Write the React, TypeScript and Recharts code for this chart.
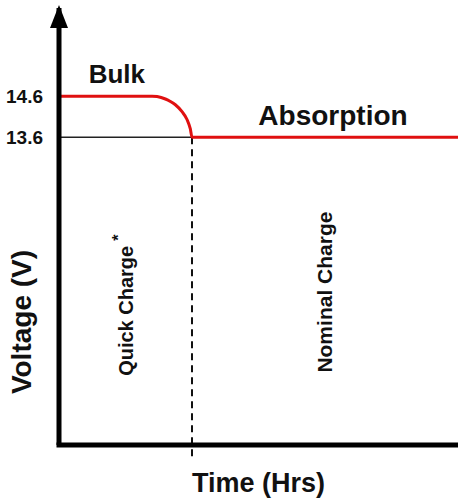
import { LineChart, Line, XAxis, YAxis, ReferenceLine, ReferenceDot } from 'recharts';

// charge profile (hours are arbitrary units, volts)
const time = [0, 2.8, 2.95, 3.2, 3.35, 3.5, 3.7, 3.85, 3.95, 4, 12];
const voltage = [14.6, 14.6, 14.59, 14.53, 14.47, 14.39, 14.22, 14.03, 13.8, 13.6, 13.6];
const yTicks = [13.6, 14.6];
const switchTime = 4;
const floorV = 13.6;

const chartData = time.map((t, i) => ({ t, v: voltage[i] }));

const FONT = '"Liberation Sans", Arial, sans-serif';

type TextProps = { cx?: number; cy?: number };

const note =
  (text: string, size: number, rotate = false, star = false) =>
  ({ cx = 0, cy = 0 }: TextProps) => (
    <text
      x={cx}
      y={cy}
      textAnchor="middle"
      fontFamily={FONT}
      fontWeight="bold"
      fontSize={size}
      fill="#111"
      transform={rotate ? `rotate(-90 ${cx} ${cy})` : undefined}
    >
      {text}
      {star && (
        <tspan dx={5} dy={-size * 0.45} fontSize={size * 0.8}>
          *
        </tspan>
      )}
    </text>
  );

const arrow = ({ cx = 0, cy = 0 }: TextProps) => (
  <polygon points={`${cx},${cy - 3} ${cx - 9},${cy + 20} ${cx + 9},${cy + 20}`} fill="#000" />
);

const VoltTick = (props: any) => {
  const { x, y, payload } = props;
  return (
    <text
      x={x}
      y={y}
      dy={7}
      textAnchor="end"
      fontFamily={FONT}
      fontWeight="bold"
      fontSize={19}
      fill="#111"
    >
      {Number(payload.value).toFixed(1)}
    </text>
  );
};

export default function App() {
  return (
    <div style={{ position: 'absolute', left: 0, top: 0, background: '#fff' }}>
      <LineChart width={458} height={500} data={chartData} margin={{ top: 8, right: 0, bottom: 0, left: 0 }}>
        <XAxis
          type="number"
          dataKey="t"
          domain={[0, 12]}
          allowDataOverflow
          tick={false}
          tickLine={false}
          height={55}
          axisLine={{ stroke: '#000', strokeWidth: 5, strokeLinecap: 'square' }}
          label={{
            value: 'Time (Hrs)',
            position: 'insideBottom',
            offset: 8,
            style: { fontFamily: FONT, fontWeight: 'bold', fontSize: 27, fill: '#111' },
          }}
        />
        <YAxis
          type="number"
          domain={[6.09, 16.75]}
          allowDataOverflow
          ticks={yTicks}
          tickLine={false}
          tickSize={0}
          tickMargin={16}
          width={59}
          axisLine={{ stroke: '#000', strokeWidth: 5 }}
          tick={<VoltTick />}
        />
        <ReferenceLine
          segment={[{ x: 0, y: floorV }, { x: switchTime, y: floorV }]}
          stroke="#222"
          strokeWidth={1.5}
        />
        <ReferenceLine
          segment={[{ x: switchTime, y: floorV }, { x: switchTime, y: 5.77 }]}
          stroke="#111"
          strokeWidth={2}
          strokeDasharray="7 5"
          ifOverflow="visible"
        />
        <Line
          type="monotone"
          dataKey="v"
          stroke="#e01010"
          strokeWidth={3}
          dot={false}
          isAnimationActive={false}
        />
        <ReferenceDot x={0} y={16.75} r={0} shape={arrow} ifOverflow="visible" />
        <ReferenceDot x={1.74} y={14.93} r={0} shape={note('Bulk', 26)} ifOverflow="visible" />
        <ReferenceDot x={8.24} y={13.89} r={0} shape={note('Absorption', 28)} ifOverflow="visible" />
        <ReferenceDot x={-0.84} y={9.09} r={0} shape={note('Voltage (V)', 28, true)} ifOverflow="visible" />
        <ReferenceDot x={2.23} y={9.5} r={0} shape={note('Quick Charge', 20, true, true)} ifOverflow="visible" />
        <ReferenceDot x={8.21} y={9.82} r={0} shape={note('Nominal Charge', 21, true)} ifOverflow="visible" />
      </LineChart>
    </div>
  );
}
